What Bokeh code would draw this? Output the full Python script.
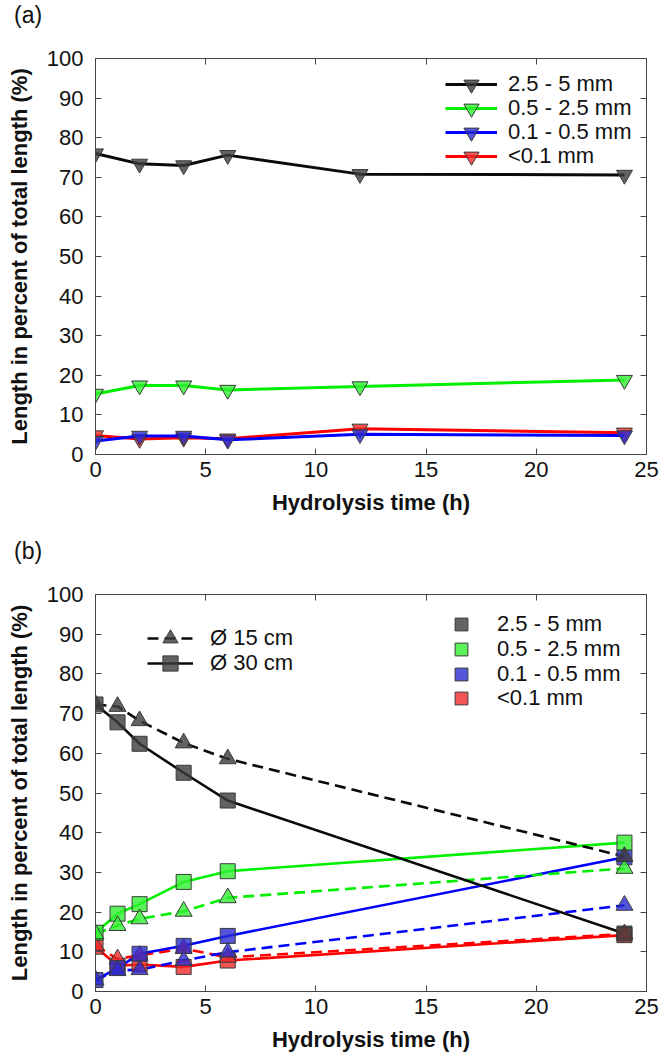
from bokeh.plotting import figure
from bokeh.models import Range1d, LinearAxis, FixedTicker, Legend, LegendItem, Div
from bokeh.layouts import column
from bokeh.embed import file_html
from bokeh.resources import INLINE

FONT = "Liberation Sans"

# ---------------- data ----------------
# Panel (a)
time_a = [0, 2, 4, 6, 12, 24]
a_2_5_to_5 = [76.0, 73.4, 73.0, 75.6, 70.8, 70.6]
a_0_5_to_2_5 = [15.3, 17.4, 17.4, 16.3, 17.2, 18.8]
a_0_1_to_0_5 = [3.4, 4.7, 4.7, 3.7, 5.1, 4.8]
a_lt_0_1 = [4.8, 3.9, 4.2, 4.0, 6.5, 5.5]

# Panel (b)
time_b = [0, 1, 2, 4, 6, 24]
b15_2_5_to_5 = [72.3, 71.8, 68.2, 62.6, 58.6, 34.0]
b30_2_5_to_5 = [72.3, 67.8, 62.4, 55.1, 48.1, 14.6]
b15_0_5_to_2_5 = [14.5, 16.6, 18.3, 20.2, 23.6, 31.0]
b30_0_5_to_2_5 = [14.8, 19.6, 22.0, 27.6, 30.3, 37.5]
b15_0_1_to_0_5 = [2.9, 5.3, 5.5, 7.8, 9.9, 21.7]
b30_0_1_to_0_5 = [2.9, 5.9, 9.5, 11.5, 14.0, 33.8]
b15_lt_0_1 = [11.6, 8.2, 9.1, 10.8, 8.6, 14.5]
b30_lt_0_1 = [11.3, 6.5, 6.8, 6.2, 7.8, 14.2]

panel_labels = ["(a)", "(b)"]
size_labels = ["2.5 - 5 mm", "0.5 - 2.5 mm", "0.1 - 0.5 mm", "<0.1 mm"]
diam_labels = ["\u00d8 15 cm", "\u00d8 30 cm"]
x_ticks = [0, 5, 10, 15, 20, 25]
y_ticks = [0, 10, 20, 30, 40, 50, 60, 70, 80, 90, 100]

line_colors = ["#0a0a0a", "#00f000", "#0000ff", "#ff0000"]
fill_colors = ["#3c3c3c", "#30f030", "#2a2ad0", "#f02a2a"]
edge = "#3a3a3a"
axis_col = "#444444"
FS = "22px"
W = 664


def panel_label(text):
    html = ('<div style="padding:2px 0 0 14px; font-family:\'Liberation Sans\'; '
            'font-size:23px; line-height:26px; color:#111111;">%s</div>' % text)
    return Div(text=html, width=W, height=34, margin=0)


def make_fig(height, top, bottom):
    p = figure(width=W, height=height, x_range=Range1d(0, 25), y_range=Range1d(0, 100),
               output_backend="svg", toolbar_location=None,
               min_border_left=95, min_border_right=18,
               min_border_top=top, min_border_bottom=bottom)
    p.grid.visible = False
    p.outline_line_color = axis_col
    p.background_fill_color = "white"
    p.border_fill_color = "white"

    for ax, ticks in ((p.xaxis[0], x_ticks), (p.yaxis[0], y_ticks)):
        ax.ticker = FixedTicker(ticks=ticks)
        ax.major_tick_in = 6
        ax.major_tick_out = 0
        ax.minor_tick_in = 0
        ax.minor_tick_out = 0
        ax.axis_line_color = axis_col
        ax.major_tick_line_color = axis_col
        ax.major_label_text_font = FONT
        ax.major_label_text_font_size = FS
        ax.major_label_text_color = "#111111"
        ax.axis_label_text_font = FONT
        ax.axis_label_text_font_size = FS
        ax.axis_label_text_font_style = "bold"
        ax.axis_label_text_color = "#111111"
    p.xaxis.axis_label = "Hydrolysis time (h)"
    p.yaxis.axis_label = "Length in percent of total length (%)"
    p.xaxis.major_label_standoff = 7
    p.yaxis.major_label_standoff = 12
    p.xaxis.axis_label_standoff = 10
    p.yaxis.axis_label_standoff = 12

    for loc, ticks in (("right", y_ticks), ("above", x_ticks)):
        ax = LinearAxis(ticker=FixedTicker(ticks=ticks),
                        major_label_overrides={t: "" for t in ticks},
                        major_label_text_font_size="1px",
                        major_tick_in=6, major_tick_out=0, minor_tick_in=0, minor_tick_out=0,
                        major_label_standoff=0, axis_line_color=axis_col,
                        major_tick_line_color=axis_col)
        p.add_layout(ax, loc)
    return p


def single_legend(p, item, loc, gw, gh, standoff):
    leg = Legend(items=[item], location=loc, glyph_width=gw, glyph_height=gh,
                 spacing=0, label_standoff=standoff, padding=0, margin=0,
                 border_line_alpha=0, background_fill_alpha=0,
                 label_text_font=FONT, label_text_font_size=FS, label_text_color="#111111")
    p.add_layout(leg, "center")


# ---------------- panel (a) ----------------
pa = make_fig(502, 24, 82)
series_a = [a_2_5_to_5, a_0_5_to_2_5, a_0_1_to_0_5, a_lt_0_1]
rend_a = {}
for i in [3, 2, 1, 0]:
    lr = pa.line(time_a, series_a[i], line_color=line_colors[i], line_width=3)
    sr = pa.scatter(time_a, series_a[i], marker="inverted_triangle", size=16,
                    fill_color=fill_colors[i], fill_alpha=0.8, line_color=edge, line_width=1)
    rend_a[i] = [lr, sr]
for i, yoff in zip(range(4), [351, 327, 303, 279]):
    single_legend(pa, LegendItem(label=size_labels[i], renderers=rend_a[i]),
                  (350, yoff), 52, 38, 11)

# ---------------- panel (b) ----------------
pb = make_fig(488, 24, 67)
series_b15 = [b15_2_5_to_5, b15_0_5_to_2_5, b15_0_1_to_0_5, b15_lt_0_1]
series_b30 = [b30_2_5_to_5, b30_0_5_to_2_5, b30_0_1_to_0_5, b30_lt_0_1]
lines15, lines30, sq30, tri15 = {}, {}, {}, {}
for i in [3, 2, 1, 0]:
    lines15[i] = pb.line(time_b, series_b15[i], line_color=line_colors[i], line_width=2.6,
                         line_dash="11 6")
    lines30[i] = pb.line(time_b, series_b30[i], line_color=line_colors[i], line_width=2.6)
for i in [3, 2, 1, 0]:
    sq30[i] = pb.scatter(time_b, series_b30[i], marker="square", size=15,
                         fill_color=fill_colors[i], fill_alpha=0.8, line_color=edge, line_width=1)
    tri15[i] = pb.scatter(time_b, series_b15[i], marker="triangle", size=17,
                          fill_color=fill_colors[i], fill_alpha=0.8, line_color=edge, line_width=1)

# style key (diameters)
single_legend(pb, LegendItem(label=diam_labels[0], renderers=[lines15[0], tri15[0]]),
              (52, 334), 46, 38, 17)
single_legend(pb, LegendItem(label=diam_labels[1], renderers=[lines30[0], sq30[0]]),
              (52, 309), 46, 38, 17)
# colour key (size classes)
for i, yoff in zip(range(4), [351, 326, 301, 277]):
    single_legend(pb, LegendItem(label=size_labels[i], renderers=[sq30[i]]),
                  (350, yoff), 32, 32, 20)

layout = column(panel_label(panel_labels[0]), pa, panel_label(panel_labels[1]), pb)
open("out.html", "w").write(file_html(layout, INLINE))
